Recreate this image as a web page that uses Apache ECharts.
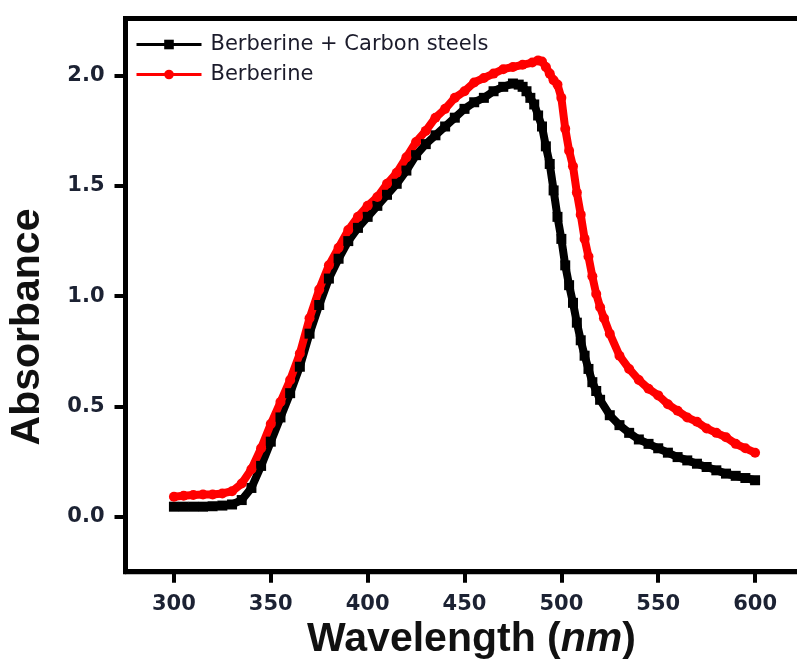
<!DOCTYPE html>
<html>
<head>
<meta charset="utf-8" />
<script src="https://cdn.jsdelivr.net/npm/echarts@6/dist/echarts.min.js"></script>
<style>
  html, body { margin: 0; padding: 0; background: #fff; }
  #chart { width: 797px; height: 664px; }
</style>
</head>
<body>
<div id="chart"></div>
<script>
// tick positions
const xTicks = [300, 350, 400, 450, 500, 550, 600];
const yTicks = [0, 0.5, 1.0, 1.5, 2.0];

// Berberine + Carbon steels (black squares)
const wlSteel = [
  300, 305, 310, 315, 320, 325, 330, 335, 340, 345, 350, 355, 360, 365, 370, 375,
  380, 385, 390, 395, 400, 405, 410, 415, 420, 425, 430, 435, 440, 445, 450, 455,
  460, 465, 470, 475, 478, 480, 482, 484, 486, 488, 490, 492, 494, 496, 498, 500,
  502, 504, 506, 508, 510, 512, 514, 516, 518, 520, 525, 530, 535, 540, 545, 550,
  555, 560, 565, 570, 575, 580, 585, 590, 595, 600
];
const absSteel = [
  0.045, 0.045, 0.045, 0.045, 0.047, 0.05, 0.055, 0.075, 0.13, 0.23, 0.34, 0.45, 0.56, 0.68, 0.83, 0.96,
  1.08, 1.17, 1.25, 1.31, 1.36, 1.41, 1.46, 1.51, 1.57, 1.64, 1.69, 1.73, 1.77, 1.81, 1.85, 1.88,
  1.90, 1.93, 1.95, 1.965, 1.96, 1.95, 1.93, 1.90, 1.87, 1.82, 1.77, 1.68, 1.60, 1.48, 1.36, 1.26,
  1.14, 1.05, 0.97, 0.88, 0.80, 0.73, 0.67, 0.61, 0.57, 0.53, 0.46, 0.415, 0.38, 0.35, 0.33, 0.31,
  0.29, 0.27, 0.255, 0.24, 0.225, 0.21, 0.195, 0.185, 0.175, 0.165
];

// Berberine (red circles)
const wlBer = [
  300, 305, 310, 315, 320, 325, 330, 335, 340, 345, 350, 355, 360, 365, 370, 375,
  380, 385, 390, 395, 400, 405, 410, 415, 420, 425, 430, 435, 440, 445, 450, 455,
  460, 465, 470, 475, 480, 485, 488, 490, 492, 494, 496, 498, 500, 502, 504, 506,
  508, 510, 512, 514, 516, 518, 520, 522, 525, 530, 535, 540, 545, 550, 555, 560,
  565, 570, 575, 580, 585, 590, 595, 600
];
const absBer = [
  0.09, 0.095, 0.098, 0.10, 0.10, 0.105, 0.115, 0.15, 0.215, 0.31, 0.42, 0.52, 0.62, 0.74, 0.90, 1.03,
  1.14, 1.22, 1.30, 1.36, 1.41, 1.45, 1.51, 1.56, 1.63, 1.70, 1.75, 1.81, 1.85, 1.90, 1.93, 1.97,
  1.99, 2.01, 2.03, 2.04, 2.05, 2.06, 2.07, 2.065, 2.04, 2.01, 1.98, 1.96, 1.90, 1.76, 1.66, 1.59,
  1.47, 1.37, 1.26, 1.18, 1.09, 1.01, 0.95, 0.90, 0.83, 0.73, 0.67, 0.62, 0.58, 0.55, 0.51, 0.48,
  0.45, 0.43, 0.40, 0.38, 0.36, 0.33, 0.31, 0.29
];

const chart = echarts.init(document.getElementById('chart'));
const tickFont = { fontFamily: 'DejaVu Sans', fontWeight: 'bold', fontSize: 21, color: '#1c2233' };

chart.setOption({
  animation: false,
  backgroundColor: '#fff',
  grid: {
    left: 125.5, top: 18.5, width: 678, height: 553.2,
    outerBoundsMode: 'none',
    show: true, borderColor: '#000', borderWidth: 5
  },
  legend: {
    left: 135, top: 34,
    padding: 0,
    orient: 'vertical',
    itemWidth: 65, itemHeight: 12, itemGap: 9,
    lineStyle: { width: 3 },
    textStyle: { fontFamily: 'DejaVu Sans', fontSize: 21, color: '#1b1b2b', padding: [0, 0, 0, 4] },
    data: ['Berberine + Carbon steels', 'Berberine']
  },
  xAxis: {
    type: 'value', min: 275, max: 625,
    axisLine: { show: true, onZero: false, lineStyle: { color: '#000', width: 5 } },
    axisTick: { show: true, length: 11, lineStyle: { color: '#000', width: 4 }, customValues: xTicks },
    axisLabel: { margin: 22, customValues: xTicks, ...tickFont },
    splitLine: { show: false },
    name: '{a|Wavelength (}{b|nm}{a|)}',
    nameLocation: 'middle',
    nameGap: 47,
    nameTextStyle: {
      padding: [0, 0, 0, 14],
      rich: {
        a: { fontFamily: 'Liberation Sans', fontWeight: 'bold', fontSize: 41, color: '#111' },
        b: { fontFamily: 'Liberation Sans', fontWeight: 'bold', fontStyle: 'italic', fontSize: 41, color: '#111' }
      }
    }
  },
  yAxis: {
    type: 'value', min: -0.25, max: 2.26,
    axisLine: { show: true, onZero: false, lineStyle: { color: '#000', width: 5 } },
    axisTick: { show: true, length: 11, lineStyle: { color: '#000', width: 4 }, customValues: yTicks },
    axisLabel: { margin: 21, customValues: yTicks, formatter: v => v.toFixed(1), ...tickFont },
    splitLine: { show: false }
  },
  graphic: [{
    type: 'text',
    x: 28, y: 327,
    rotation: Math.PI / 2,
    style: {
      text: 'Absorbance',
      fontFamily: 'Liberation Sans', fontWeight: 'bold', fontSize: 41,
      fill: '#111', align: 'center', verticalAlign: 'middle'
    }
  }],
  series: [
    {
      name: 'Berberine + Carbon steels',
      type: 'line',
      data: wlSteel.map((w, i) => [w, absSteel[i]]),
      symbol: 'rect', symbolSize: 10,
      itemStyle: { color: '#000' },
      lineStyle: { color: '#000', width: 8 }
    },
    {
      name: 'Berberine',
      type: 'line',
      data: wlBer.map((w, i) => [w, absBer[i]]),
      symbol: 'circle', symbolSize: 10,
      itemStyle: { color: '#ff0000' },
      lineStyle: { color: '#ff0000', width: 8 }
    }
  ]
});
</script>
</body>
</html>
